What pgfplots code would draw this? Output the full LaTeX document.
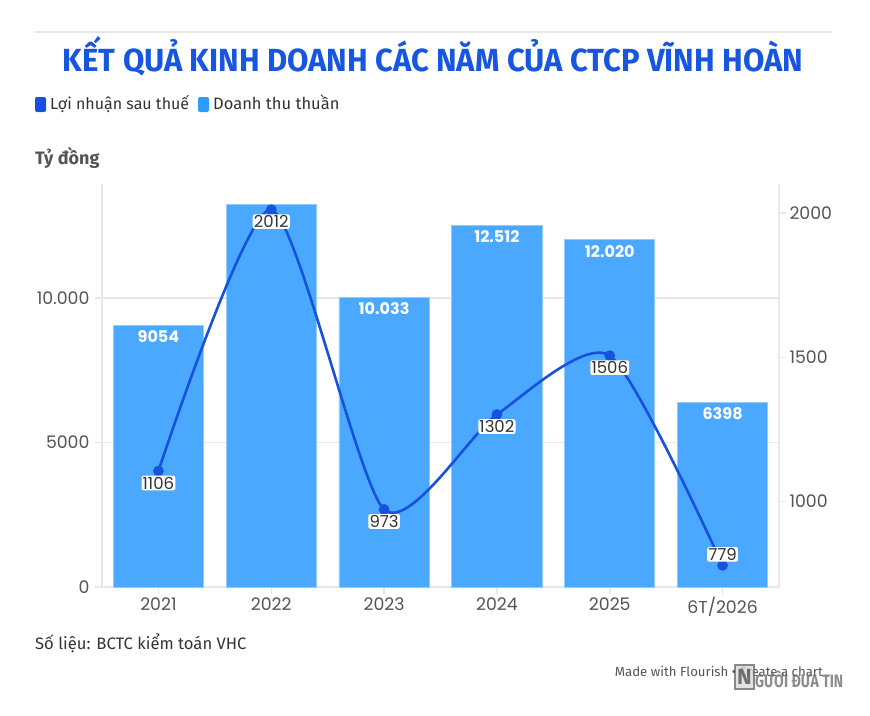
\documentclass[border=0pt]{standalone}
\usepackage{fontspec}
\setmainfont{Fira Sans}
\newfontfamily\numfont{Poppins}
\usepackage{graphicx}
\usepackage{pgfplots}
\pgfplotsset{compat=1.18}
\definecolor{titleblue}{RGB}{22,86,224}
\definecolor{lineblue}{RGB}{22,82,222}
\definecolor{barblue}{RGB}{75,168,255}
\definecolor{legbar}{RGB}{45,156,255}
\definecolor{axgray}{RGB}{232,232,232}
\definecolor{ticktext}{RGB}{85,85,85}
\definecolor{bodytext}{RGB}{51,51,51}
\pgfplotsset{
  common/.style={
    at={(102pt,-587pt)}, anchor=south west, scale only axis,
    width=677pt, height=403pt, xmin=-0.5, xmax=5.5,
    axis line style={axgray, line width=1.5pt},
    tick align=outside, major tick length=7pt,
    tick style={axgray, line width=1.5pt},
    ticklabel style={text=ticktext, font=\numfont\fontsize{17.3}{18}\selectfont},
    scaled y ticks=false,
    clip=false,
  }
}
\begin{document}
\begin{tikzpicture}
\path[use as bounding box, fill=white] (0,0) rectangle (870pt,-715pt);
\draw[axgray, line width=1.2pt] (35pt,-32pt) -- (832pt,-32pt);
\node[anchor=base, text=titleblue, inner sep=0pt] at (433pt,-71pt)
  {\resizebox{740pt}{\height}{\fontsize{32}{36}\selectfont\bfseries KẾT QUẢ KINH DOANH CÁC NĂM CỦA CTCP VĨNH HOÀN}};
% legend
\fill[lineblue, rounded corners=2pt] (35pt,-97pt) rectangle (46pt,-112pt);
\node[anchor=base west, inner sep=0pt, text=bodytext] at (50pt,-109.5pt)
  {\fontsize{16}{18}\selectfont Lợi nhuận sau thuế};
\fill[legbar, rounded corners=2pt] (198pt,-97pt) rectangle (209pt,-112pt);
\node[anchor=base west, inner sep=0pt, text=bodytext] at (213pt,-109.5pt)
  {\fontsize{16.5}{18}\selectfont Doanh thu thuần};
\node[anchor=base west, inner sep=0pt, text=ticktext] at (35pt,-164pt)
  {\fontsize{18}{20}\selectfont\bfseries Tỷ đồng};

% bars
\begin{axis}[common,
  ymin=0, ymax=13950,
  axis x line*=bottom, axis y line*=left,
  xtick={0,1,2,3,4,5}, xticklabels={2021,2022,2023,2024,2025,6T/2026},
  ytick={0,5000,10000}, yticklabels={0,5000,10.000},
  ymajorgrids, grid style={axgray, line width=1.5pt},
  xticklabel style={yshift=0pt},
  yticklabel style={xshift=-2pt},
]
\addplot[ybar, bar width=0.8, fill=barblue, draw=barblue!60!white, line width=0.8pt,
  nodes near coords, point meta=explicit symbolic,
  every node near coord/.style={anchor=north, yshift=-4pt, inner sep=1pt, text=white,
    font=\numfont\fontsize{16}{16}\selectfont\bfseries}]
  coordinates {(0,9054) [9054] (2,10033) [10.033] (3,12512) [12.512] (4,12020) [12.020] (5,6398) [6398]};
\addplot[ybar, bar width=0.8, fill=barblue, draw=barblue!60!white, line width=0.8pt]
  coordinates {(1,13231)};
\end{axis}

% line
\begin{axis}[common,
  ymin=704, ymax=2101,
  axis x line=none, axis y line*=right,
  ytick={1000,1500,2000}, yticklabels={1000,1500,2000},
]
\addplot[lineblue, line width=2.6pt, smooth, tension=0.4, mark=*, mark size=4pt,
  mark options={fill=lineblue, draw=none}]
  coordinates {(0,1106) (1,2012) (2,973) (3,1302) (4,1506) (5,779)};
\addplot[draw=none, mark=none, nodes near coords, point meta=explicit symbolic,
  every node near coord/.style={anchor=north, yshift=-4.5pt, fill=white, inner sep=1.2pt,
    rounded corners=2pt, text=bodytext, font=\numfont\fontsize{16.5}{17}\selectfont}]
  coordinates {(0,1106) [1106] (1,2012) [2012] (2,973) [973] (3,1302) [1302] (4,1506) [1506]};
\addplot[draw=none, mark=none, nodes near coords, point meta=explicit symbolic,
  every node near coord/.style={anchor=south, yshift=3.5pt, fill=white, inner sep=1.2pt,
    rounded corners=2pt, text=bodytext, font=\numfont\fontsize{16.5}{17}\selectfont}]
  coordinates {(5,779) [779]};
\end{axis}

% footer
\node[anchor=base west, inner sep=0pt, text=bodytext] at (35pt,-649pt)
  {\fontsize{16.6}{18}\selectfont Số liệu: BCTC kiểm toán VHC};
\node[anchor=base east, inner sep=0pt, text=ticktext] at (823pt,-676pt)
  {\fontsize{13.2}{15}\selectfont Made with Flourish • Create a chart};
\begin{scope}[opacity=0.75]
\draw[black!60, line width=1.2pt, fill=black!15] (735pt,-665pt) rectangle (754pt,-689pt);
\node[anchor=center, inner sep=0pt, text=black!70] at (744.5pt,-677pt)
  {\fontsize{22}{22}\selectfont\bfseries N};
\node[anchor=base west, inner sep=0pt, text=black!60] at (755pt,-687pt)
  {\resizebox{88pt}{\height}{\fontsize{18}{18}\selectfont\bfseries GƯỜI ĐƯA TIN}};
\end{scope}
\end{tikzpicture}
\end{document}
